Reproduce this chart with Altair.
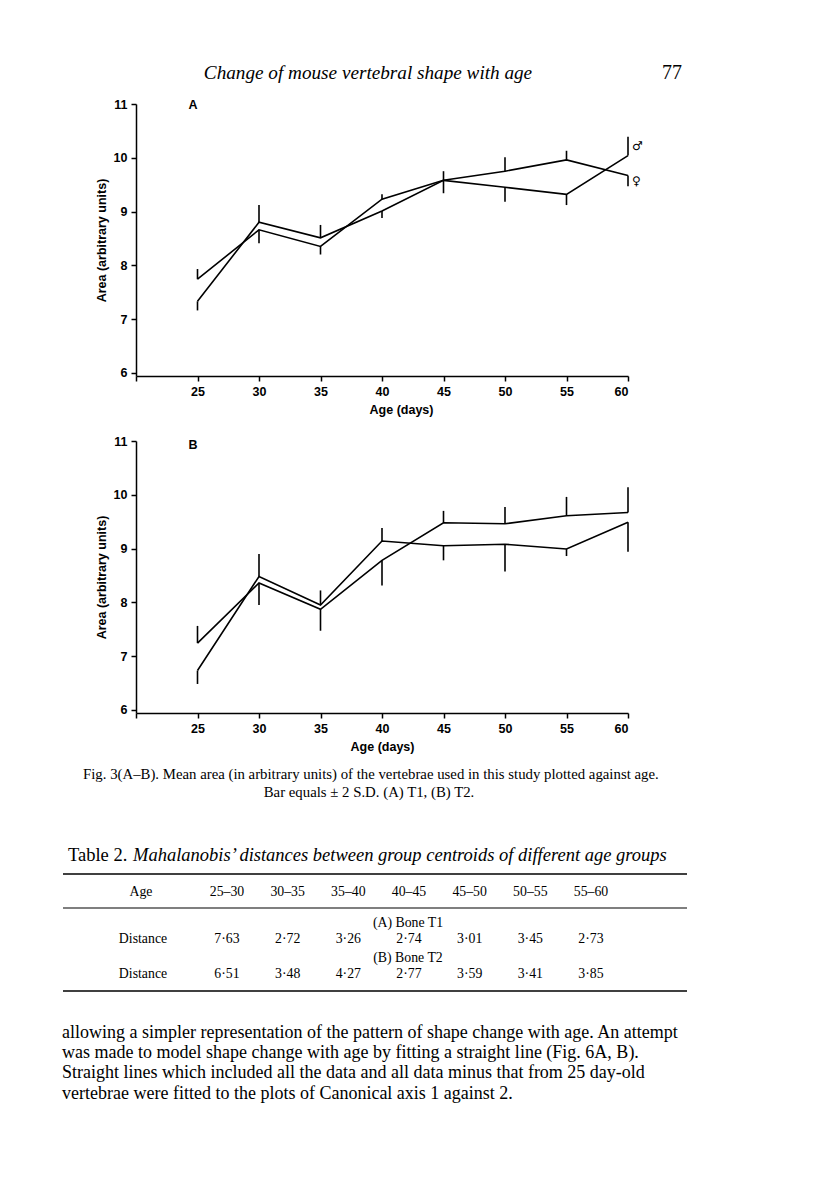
import altair as alt
import pandas as pd

# ---------------- data ----------------
ages = [25, 30, 35, 40, 45, 50, 55, 60]
# Fig. 3A  (bone T1)
a_male = [7.33, 8.80, 8.51, 9.01, 9.58, 9.45, 9.32, 10.04]
a_male_bar = [7.16, 9.12, 8.75, 8.88, 9.34, 9.18, 9.12, 10.39]
a_female = [7.74, 8.66, 8.35, 9.23, 9.58, 9.75, 9.96, 9.67]
a_female_bar = [7.93, 8.41, 8.20, 9.32, 9.75, 10.01, 10.13, 9.47]
# Fig. 3B  (bone T2)
b_male = [6.73, 8.48, 7.95, 9.14, 9.05, 9.08, 8.99, 9.49]
b_male_bar = [6.48, 8.90, 8.22, 9.38, 8.78, 8.57, 8.86, 8.94]
b_female = [7.24, 8.36, 7.87, 8.78, 9.48, 9.46, 9.61, 9.67]
b_female_bar = [7.56, 7.95, 7.47, 8.31, 9.70, 9.77, 9.96, 10.14]

x_ticks = [20, 25, 30, 35, 40, 45, 50, 55, 60]
y_ticks = [6, 7, 8, 9, 10, 11]
sex_symbols = ["♂", "♀"]

# Table 2
age_groups = ["25–30", "30–35", "35–40", "40–45", "45–50", "50–55", "55–60"]
dist_t1 = [7.63, 2.72, 3.26, 2.74, 3.01, 3.45, 2.73]
dist_t2 = [6.51, 3.48, 4.27, 2.77, 3.59, 3.41, 3.85]

running_head = "Change of mouse vertebral shape with age"
page_number = "77"
caption_1 = "Fig. 3(A–B). Mean area (in arbitrary units) of the vertebrae used in this study plotted against age."
caption_2 = "Bar equals ± 2 S.D. (A) T1, (B) T2."
table_label = "Table 2."
table_title = "Mahalanobis’ distances between group centroids of different age groups"
paragraph = [
    "allowing a simpler representation of the pattern of shape change with age. An attempt",
    "was made to model shape change with age by fitting a straight line (Fig. 6A, B).",
    "Straight lines which included all the data and all data minus that from 25 day-old",
    "vertebrae were fitted to the plots of Canonical axis 1 against 2.",
]

SERIF = "Liberation Serif"
SANS = "Liberation Sans"
PW, PH = 492, 272

AX = dict(domainColor="black", domainWidth=1.5, tickColor="black", tickWidth=1.5,
          tickSize=5, labelColor="black", labelFont=SANS, labelFontSize=12.5,
          labelFontWeight="bold",
          titleColor="black", titleFont=SANS, titleFontSize=12.5,
          titleFontWeight="bold", grid=False)

one = pd.DataFrame({"k": [0]})


def panel(s1, s1b, s2, s2b, letter, letter_y, title_x=None, symbols=False, extra=()):
    df = pd.DataFrame({
        "age": ages * 2,
        "series": ["s1"] * len(ages) + ["s2"] * len(ages),
        "value": s1 + s2,
        "bar": s1b + s2b,
    })
    xs = alt.Scale(domain=[20, 60], nice=False, zero=False)
    ys = alt.Scale(domain=[5.94, 11], nice=False, zero=False)
    xa = dict(values=x_ticks, labelExpr="datum.value == 20 ? '' : datum.label",
              labelPadding=4, titlePadding=6, **AX)
    if title_x is not None:
        xa["titleX"] = title_x
    xaxis = alt.Axis(**xa)
    yaxis = alt.Axis(values=y_ticks, labelPadding=4, titlePadding=5, **AX)
    X = lambda f: alt.X(f, scale=xs, axis=xaxis, title="Age (days)")
    Y = lambda f: alt.Y(f, scale=ys, axis=yaxis, title="Area (arbitrary units)")

    base = alt.Chart(df)
    lines = base.mark_line(color="black", strokeWidth=1.6).encode(
        x=X("age:Q"), y=Y("value:Q"), detail="series:N")
    bars = base.mark_rule(color="black", strokeWidth=1.6).encode(
        x=X("age:Q"), y=Y("value:Q"), y2="bar:Q")
    lab = alt.Chart(one).mark_text(font=SANS, fontSize=12.5, fontWeight="bold",
                                    align="center", baseline="middle",
                                    color="black").encode(
        x=alt.value(57), y=alt.value(letter_y), text=alt.value(letter))
    layers = list(extra) + [lines, bars, lab]
    if symbols:
        sdf = pd.DataFrame({"age": [ages[-1], ages[-1]],
                            "value": [s1[-1], s2[-1]],
                            "bar": [s1b[-1], s2b[-1]],
                            "sym": sex_symbols})
        sym = alt.Chart(sdf).transform_calculate(
            mid="(datum.value + datum.bar) / 2").mark_text(
            font="DejaVu Sans", fontSize=12, align="left", baseline="middle",
            dx=4, color="black").encode(
            x=X("age:Q"), y=Y("mid:Q"), text="sym:N")
        layers.append(sym)
    return alt.layer(*layers).properties(width=PW, height=PH)


# running head (drawn in panel A's frame, above the plot)
anchor = alt.Chart(one).mark_rule(color="white", strokeWidth=1).encode(
    x=alt.value(-127), x2=alt.value(-126), y=alt.value(-95))
head = alt.Chart(one).mark_text(font=SERIF, fontSize=19.2, fontStyle="italic",
                                 align="center", baseline="alphabetic", color="black").encode(
    x=alt.value(232), y=alt.value(-25), text=alt.value(running_head))
pnum = alt.Chart(one).mark_text(font=SERIF, fontSize=20, align="right",
                                 baseline="alphabetic", color="black").encode(
    x=alt.value(546), y=alt.value(-25), text=alt.value(page_number))

chart_a = panel(a_male, a_male_bar, a_female, a_female_bar, "A", 1, title_x=265,
                symbols=True, extra=(anchor, head, pnum))
chart_b = panel(b_male, b_male_bar, b_female, b_female_bar, "B", 4)


# ---------------- caption, table, text ----------------
def txt(s, x, y, size=14.8, align="left", style="normal"):
    return alt.Chart(one).mark_text(font=SERIF, fontSize=size, align=align,
                                    fontStyle=style, baseline="alphabetic",
                                    color="black").encode(
        x=alt.value(x), y=alt.value(y), text=alt.value(s))


def hrule(y, w):
    return alt.Chart(one).mark_rule(color="black", strokeWidth=w).encode(
        x=alt.value(-73), x2=alt.value(551), y=alt.value(y))


TS = 13.8
tdf = pd.DataFrame({"group": age_groups, "t1": dist_t1, "t2": dist_t2})
cs = alt.Scale(type="point", domain=age_groups, range=[91, 455], padding=0)
tbase = alt.Chart(tdf).transform_calculate(
    t1s="replace(format(datum.t1, '.2f'), '.', '·')",
    t2s="replace(format(datum.t2, '.2f'), '.', '·')")
cx = alt.X("group:N", scale=cs, axis=None, sort=age_groups)
tkw = dict(font=SERIF, fontSize=TS, align="center", baseline="alphabetic", color="black")
hdr = tbase.mark_text(**tkw).encode(x=cx, y=alt.value(118), text="group:N")
row1 = tbase.mark_text(**tkw).encode(x=cx, y=alt.value(165), text="t1s:N")
row2 = tbase.mark_text(**tkw).encode(x=cx, y=alt.value(200), text="t2s:N")

para = alt.Chart(one).mark_text(font=SERIF, fontSize=18, align="left",
                                 baseline="alphabetic", lineHeight=20.2,
                                 color="black").encode(
    x=alt.value(-74), y=alt.value(260), text=alt.value(paragraph))

chart_c = alt.layer(
    txt(caption_1, -53, 1),
    txt(caption_2, 233, 19, align="center"),
    txt(table_label, -68, 83, size=18.5),
    txt(table_title, -3, 83, size=18.5, style="italic"),
    hrule(96, 1.6),
    txt("Age", 5, 118, size=TS, align="center"),
    hdr,
    hrule(130, 1.2),
    txt("(A) Bone T1", 272, 149, size=TS, align="center"),
    txt("Distance", 7, 165, size=TS, align="center"),
    row1,
    txt("(B) Bone T2", 272, 184, size=TS, align="center"),
    txt("Distance", 7, 200, size=TS, align="center"),
    row2,
    hrule(213, 1.6),
    para,
).properties(width=551, height=330)

chart = alt.vconcat(chart_a, chart_b, chart_c, spacing=65, bounds="flush").configure_view(
    stroke=None).properties(padding=0, background="white")

chart.save("out.html", embed_options={"renderer": "svg", "actions": False})
